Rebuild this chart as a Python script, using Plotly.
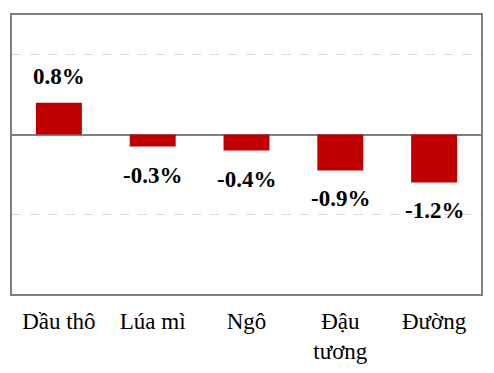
import plotly.graph_objects as go

categories = ["Dầu thô", "Lúa mì", "Ngô", "Đậu<br>tương", "Đường"]
values = [0.8, -0.3, -0.4, -0.9, -1.2]
value_labels = ["0.8%", "-0.3%", "-0.4%", "-0.9%", "-1.2%"]

SERIF = "Times New Roman, Liberation Serif, serif"

fig = go.Figure()
fig.add_trace(go.Bar(
    x=categories, y=values, width=0.49,
    marker=dict(color="#C00000", line=dict(width=0)),
    hoverinfo="skip",
))

for c, v, t in zip(categories, values, value_labels):
    fig.add_annotation(
        x=c, y=v, text=t, showarrow=False,
        yanchor="bottom" if v >= 0 else "top",
        yshift=12 if v >= 0 else -14,
        font=dict(family=SERIF, size=23, color="#000000", weight="bold"),
    )

fig.update_layout(
    width=486, height=365,
    margin=dict(l=4, r=13, t=7, b=79),
    paper_bgcolor="white", plot_bgcolor="white",
    showlegend=False,
    bargap=0.51,
    font=dict(family=SERIF, size=22, color="#000000"),
)
fig.update_xaxes(
    showline=True, linecolor="#808080", linewidth=1.5, mirror=True,
    showgrid=False, ticks="", tickfont=dict(family=SERIF, size=23, color="#000000"),
    ticklabelstandoff=6,
)
fig.update_yaxes(
    range=[-4, 3], tickvals=[-4, -2, 0, 2], showticklabels=False,
    showline=True, linecolor="#808080", linewidth=1.5, mirror=True,
    showgrid=True, gridcolor="#D9D9D9", griddash="dash", gridwidth=1.2,
    zeroline=True, zerolinecolor="#808080", zerolinewidth=1.5,
)

fig.write_html("out.html")
